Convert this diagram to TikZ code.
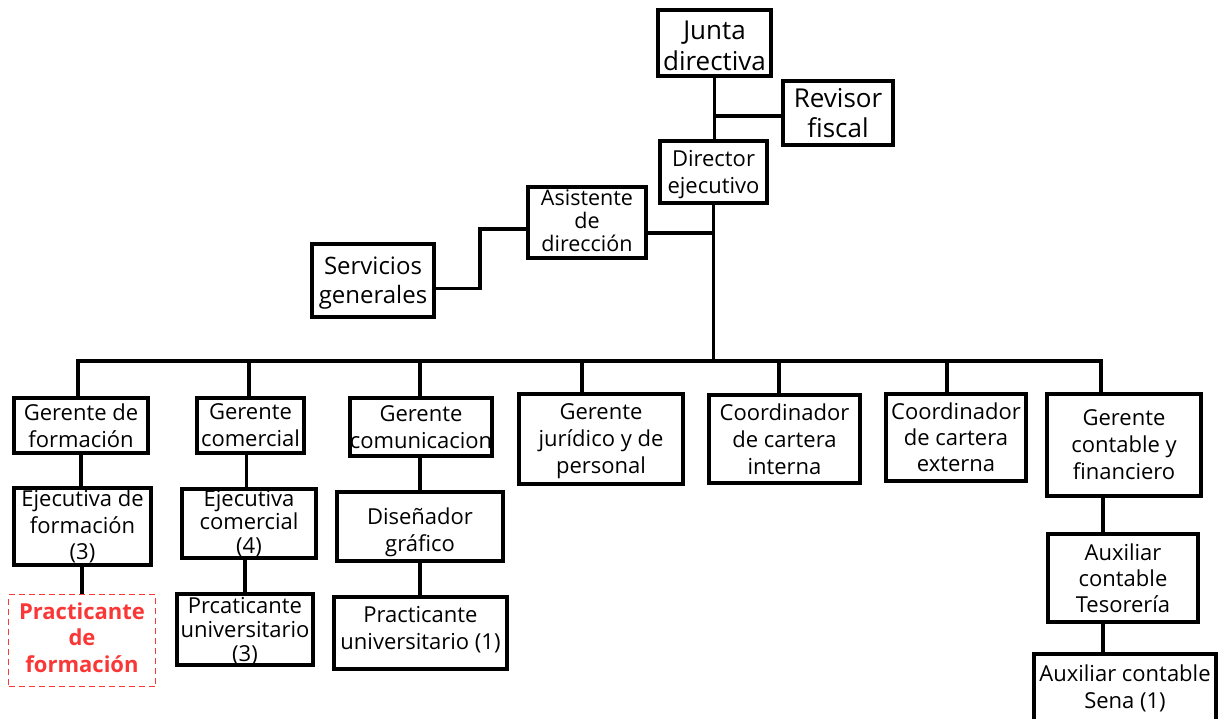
\documentclass[tikz,border=0pt]{standalone}
\usepackage{fontspec}
\setmainfont{Open Sans}
\usepackage{tikz}
\definecolor{Practica}{RGB}{250,55,55}
\tikzset{
  puesto/.style={draw,line width=3.6pt,align=center,inner sep=0pt,
    font=\fontsize{22}{27}\selectfont},
  vacante/.style={draw=Practica,dash pattern=on 6pt off 4pt,line width=1.6pt,
    align=center,inner sep=0pt,text=Practica,font=\fontsize{22}{27}\selectfont\bfseries},
  enlace/.style={line width=3.6pt},
}
\newcommand{\Rama}[3]{% desde hasta xshift
\draw[enlace] ([xshift=#3]#1.south) -- ([xshift=#3]#1.south |- #2.north);
}

\begin{document}
\begin{tikzpicture}[x=1pt,y=-1pt]
\useasboundingbox (0,0) rectangle (1225,719);
% direccion
\node[puesto,minimum width=113pt,minimum height=66pt,text height=55.6pt,text depth=0pt,font=\fontsize{26}{31}\selectfont] (junta) at (714.5,43) {Junta\\directiva};
\node[puesto,minimum width=110pt,minimum height=64pt,text depth=0pt,font=\fontsize{26}{30}\selectfont] (revisor) at (838,113) {Revisor\\fiscal};
\node[puesto,minimum width=107pt,minimum height=62pt,text depth=0pt] (director) at (713.5,172) {Director\\ejecutivo};
\node[puesto,minimum width=118pt,minimum height=71pt,text depth=4pt,font=\fontsize{21.5}{23}\selectfont] (asistente) at (587,222.5) {Asistente\\de\\dirección};
\node[puesto,minimum width=122pt,minimum height=73pt,text depth=0pt,font=\fontsize{24}{29}\selectfont] (servicios) at (373,280.5) {Servicios\\generales};

% gerencias
\node[puesto,minimum width=134pt,minimum height=55pt] (g1) at (81,425.5) {Gerente de\\formación};
\node[puesto,minimum width=107pt,minimum height=55pt] (g2) at (250.5,425.5) {Gerente\\comercial};
\node[puesto,minimum width=142pt,minimum height=58pt] (g3) at (421,427) {Gerente\\comunicacion};
\node[puesto,minimum width=164pt,minimum height=90pt,text depth=0pt] (g4) at (601,439) {Gerente\\jurídico y de\\personal};
\node[puesto,minimum width=151pt,minimum height=88pt] (g5) at (784.5,439) {Coordinador\\de cartera\\interna};
\node[puesto,minimum width=140pt,minimum height=87pt,font=\fontsize{22}{26}\selectfont] (g6) at (956,437.5) {Coordinador\\de cartera\\externa};
\node[puesto,minimum width=154pt,minimum height=102pt] (g7) at (1124,445) {Gerente\\contable y\\financiero};

% tercer nivel
\node[puesto,minimum width=137pt,minimum height=77pt,font=\fontsize{22}{26.5}\selectfont] (e1) at (82.5,526.5) {Ejecutiva de\\formación\\(3)};
\node[puesto,minimum width=134pt,minimum height=69pt,font=\fontsize{22}{23.5}\selectfont] (e2) at (249,523.5) {Ejecutiva\\comercial\\(4)};
\node[puesto,minimum width=166pt,minimum height=69pt,text height=49.7pt,text depth=0pt] (e3) at (420,526.5) {Diseñador\\gráfico};
\node[puesto,minimum width=150pt,minimum height=88pt,font=\fontsize{22}{26}\selectfont] (e7) at (1123,578) {Auxiliar\\contable\\Tesorería};

% practicantes
\node[vacante,minimum width=147pt,minimum height=92pt,text depth=6pt,font=\fontsize{22}{26.5}\selectfont\bfseries] (p1) at (82,640.5) {Practicante\\de\\formación};
\node[puesto,minimum width=136pt,minimum height=71pt,text depth=0pt,font=\fontsize{22}{24}\selectfont] (p2) at (245,629.5) {Prcaticante\\universitario\\(3)};
\node[puesto,minimum width=173pt,minimum height=72pt,text depth=11pt] (p3) at (420.5,633) {Practicante\\universitario (1)};
\node[puesto,minimum width=182pt,minimum height=68pt] (p7) at (1125,688) {Auxiliar contable\\Sena (1)};

% lineas de mando
\draw[enlace] (junta.south) -- (junta.south |- director.north);
\coordinate (rj) at (714,116);
\draw[enlace] (rj) -- (rj -| revisor.west);
\coordinate (bus) at (714,361);
\draw[enlace] (director.south) -- (director.south |- bus);
\coordinate (ad) at (714,233);
\draw[enlace] (ad) -- (ad -| asistente.east);
\draw[enlace] ([yshift=-8pt]servicios.east) -- ++(44,0) |- ([yshift=-6.5pt]asistente.west);

% barra de gerencias
\coordinate (b1) at (78,361);
\coordinate (b7) at (1101,361);
\draw[enlace] (b1 |- g1.north) -- (b1) -- (b7) -- (b7 |- g7.north);
\foreach \x/\n in {249/g2,420/g3,582/g4,779/g5,947/g6}{
  \coordinate (b\n) at (\x,361);
  \draw[enlace] (b\n) -- (b\n |- \n.north);
}

\Rama{g1}{e1}{0pt}
\Rama{g2}{e2}{-4pt}
\Rama{g3}{e3}{-1pt}
\Rama{g7}{e7}{-21pt}
\Rama{e1}{p1}{-0.5pt}
\Rama{e2}{p2}{-4pt}
\Rama{e3}{p3}{0pt}
\Rama{e7}{p7}{-20pt}
\end{tikzpicture}
\end{document}
